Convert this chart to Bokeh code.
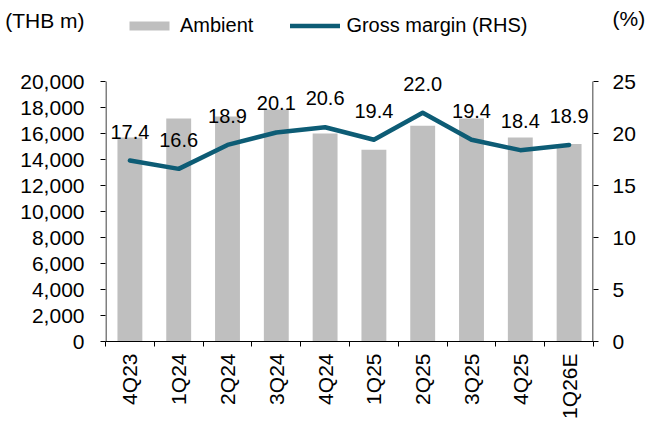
import math
from bokeh.plotting import figure
from bokeh.models import (Range1d, LinearAxis, FixedTicker, CustomJSTickFormatter,
                          ColumnDataSource, LabelSet, Legend, LegendItem)
from bokeh.core.properties import value
from bokeh.embed import file_html
from bokeh.resources import INLINE

quarters = ["4Q23", "1Q24", "2Q24", "3Q24", "4Q24", "1Q25", "2Q25", "3Q25", "4Q25", "1Q26E"]
ambient = [15700, 17150, 17300, 17850, 16000, 14750, 16600, 17150, 15700, 15200]
gross_margin = [17.4, 16.6, 18.9, 20.1, 20.6, 19.4, 22.0, 19.4, 18.4, 18.9]
left_ticks = list(range(0, 20001, 2000))
right_ticks = [0, 5, 10, 15, 20, 25]
left_unit = "(THB m)"
right_unit = "(%)"

FONT = "Liberation Sans"
BAR = "#bfbfbf"
LINE = "#0d5c75"

# plot geometry (frame spans to the top so header texts are inside it)
FRAME_L, FRAME_R, FRAME_B = 105, 593, 341
LEFT_MAX, RIGHT_MAX = left_ticks[-1], right_ticks[-1]
AXIS_TOP_PX = 81
px_per_left = (FRAME_B - AXIS_TOP_PX) / LEFT_MAX
px_per_right = (FRAME_B - AXIS_TOP_PX) / RIGHT_MAX
left_end = FRAME_B / px_per_left
right_end = FRAME_B / px_per_right
left_unit_pos = (FRAME_B - 20) / px_per_left
right_unit_pos = (FRAME_B - 18) / px_per_right

xs = [i + 0.5 for i in range(len(quarters))]
src = ColumnDataSource(dict(x=xs, amb=ambient, gm=gross_margin,
                            lbl=[f"{v:.1f}" for v in gross_margin]))

p = figure(width=654, height=423, output_backend="svg", toolbar_location=None, title=None,
           x_range=Range1d(0, len(quarters)), y_range=Range1d(0, left_end),
           min_border_left=FRAME_L, min_border_right=654 - FRAME_R,
           min_border_top=0, min_border_bottom=423 - FRAME_B)
p.extra_y_ranges = {"pct": Range1d(0, right_end)}
p.xgrid.visible = False
p.ygrid.visible = False
p.outline_line_color = None
p.background_fill_color = "white"
p.border_fill_color = "white"

bars = p.vbar(x="x", top="amb", width=0.51, source=src, fill_color=BAR, line_color=None)
line = p.line(x="x", y="gm", source=src, y_range_name="pct", line_color=LINE,
              line_width=4.5, line_cap="round", line_join="round")

# vertical axis lines (limited to the value range)
half_px = 0.5 / ((FRAME_R - FRAME_L) / len(quarters))
p.segment(x0=[half_px, len(quarters) - half_px], y0=[0, 0],
          x1=[half_px, len(quarters) - half_px], y1=[LEFT_MAX, LEFT_MAX],
          line_color="black", line_width=1)

fmt_code = """
if (tick > maxv) { return unit; }
return Math.round(tick).toString().replace(/\\B(?=(\\d{3})+(?!\\d))/g, ",");
"""

ya = p.yaxis[0]
ya.ticker = FixedTicker(ticks=left_ticks + [left_unit_pos], minor_ticks=left_ticks)
ya.formatter = CustomJSTickFormatter(args=dict(maxv=LEFT_MAX, unit=left_unit), code=fmt_code)
ya.axis_line_color = None
ya.major_tick_line_color = None
ya.major_tick_in = 0
ya.major_tick_out = 5
ya.minor_tick_line_color = "black"
ya.minor_tick_in = 0
ya.minor_tick_out = 5
ya.major_label_standoff = 16

ra = LinearAxis(y_range_name="pct",
                ticker=FixedTicker(ticks=right_ticks + [right_unit_pos], minor_ticks=right_ticks),
                formatter=CustomJSTickFormatter(args=dict(maxv=RIGHT_MAX, unit=right_unit),
                                                code=fmt_code))
ra.axis_line_color = None
ra.major_tick_line_color = None
ra.major_tick_in = 0
ra.major_tick_out = 5
ra.minor_tick_line_color = "black"
ra.minor_tick_in = 0
ra.minor_tick_out = 5
ra.major_label_standoff = 14
p.add_layout(ra, "right")

xa = p.xaxis[0]
xa.ticker = FixedTicker(ticks=xs, minor_ticks=list(range(len(quarters) + 1)))
xa.formatter = CustomJSTickFormatter(args=dict(labels=quarters),
                                     code="return labels[Math.floor(tick)];")
xa.axis_line_color = "black"
xa.major_tick_line_color = None
xa.major_tick_in = 0
xa.major_tick_out = 5
xa.minor_tick_in = 0
xa.minor_tick_out = 5
xa.minor_tick_line_color = "black"
xa.major_label_orientation = math.pi / 2
xa.major_label_standoff = 7

for ax in [xa, ya, ra]:
    ax.major_label_text_font = FONT
    ax.major_label_text_font_size = "21px"
    ax.major_label_text_color = "black"

# data labels
labels = LabelSet(x="x", y="gm", text="lbl", source=src, y_range_name="pct",
                  text_align="center", text_baseline="alphabetic", y_offset=22,
                  text_font=value(FONT), text_font_size="20px", text_color="black")
p.add_layout(labels)

legend = Legend(items=[LegendItem(label="Ambient", renderers=[bars]),
                       LegendItem(label="Gross margin (RHS)", renderers=[line])],
                orientation="horizontal", location=(124 - FRAME_L, FRAME_B - 37),
                padding=0, margin=0, spacing=37,
                glyph_width=50, glyph_height=11, label_standoff=6,
                label_text_font=FONT, label_text_font_size="20px",
                label_text_color="black",
                border_line_color=None, background_fill_alpha=0)
p.add_layout(legend)

open("out.html", "w").write(file_html(p, INLINE))
